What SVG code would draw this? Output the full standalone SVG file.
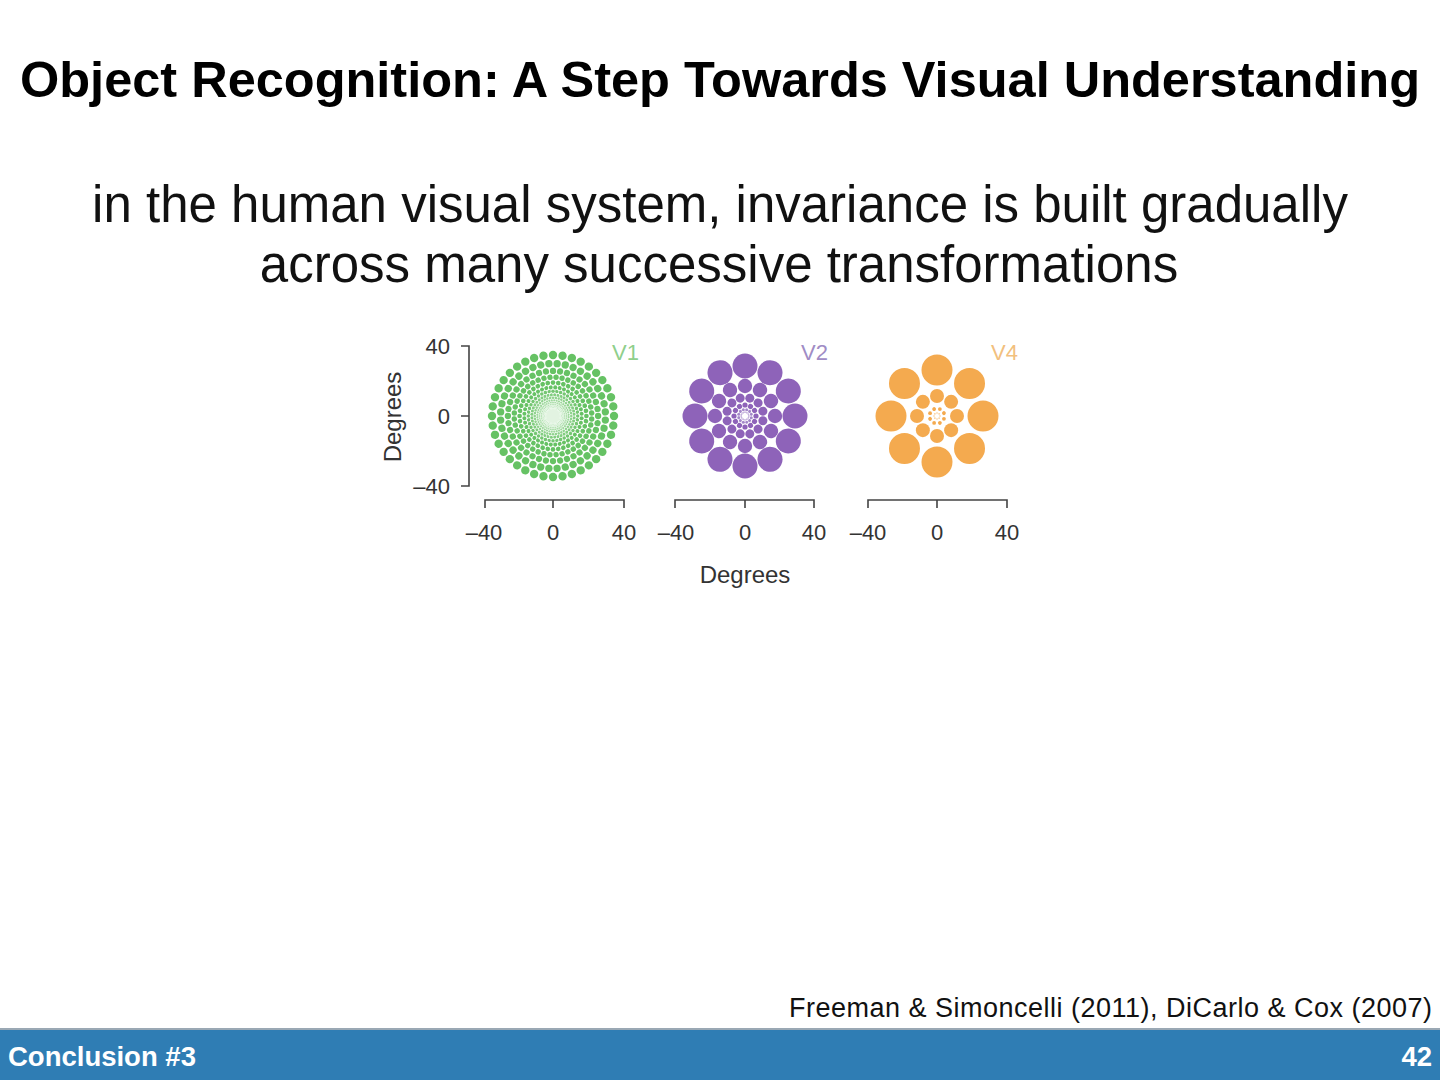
<svg xmlns="http://www.w3.org/2000/svg" xmlns:xlink="http://www.w3.org/1999/xlink" width="1440" height="1080" viewBox="0 0 1440 1080">
<style>
.title{font-family:"Liberation Sans",Arial,sans-serif;font-weight:bold;font-size:50.5px;fill:#000}
.sub{font-family:"Liberation Sans",Arial,sans-serif;font-size:51px;fill:#111}
.tick{font-family:"Liberation Sans",Arial,sans-serif;font-size:22px;fill:#333}
.deg{font-family:"Liberation Sans",Arial,sans-serif;font-size:24px;fill:#333}
.lab{font-family:"Liberation Sans",Arial,sans-serif;font-size:22px}
.cite{font-family:"Liberation Sans",Arial,sans-serif;font-size:27px;fill:#111}
.bar{font-family:"Liberation Sans",Arial,sans-serif;font-weight:bold;font-size:27.5px;fill:#fff}
.axis{stroke:#444;stroke-width:1.6;fill:none}
</style>
<defs>
<g id="v1spoke" fill="#66c264">
<circle cx="61" cy="0" r="4.2"/>
<circle cx="52.34" cy="4.12" r="3.65"/>
<circle cx="45.1" cy="0" r="3.15"/>
<circle cx="38.68" cy="3.04" r="2.72"/>
<circle cx="33.4" cy="0" r="2.35"/>
<circle cx="28.61" cy="2.25" r="2.02"/>
<circle cx="24.7" cy="0" r="1.75" fill="#74c672"/>
<circle cx="21.13" cy="1.66" r="1.5" fill="#82cd80"/>
<circle cx="18.3" cy="0" r="1.3" fill="#90d38e"/>
<circle cx="15.65" cy="1.23" r="1.12" fill="#9ed89c"/>
<circle cx="13.5" cy="0" r="0.97" fill="#abdea9"/>
<circle cx="11.56" cy="0.91" r="0.84" fill="#b7e3b5"/>
<circle cx="10" cy="0" r="0.72" fill="#c3e8c2"/>
<circle cx="8.57" cy="0.67" r="0.62" fill="#cdecCc"/>
<circle cx="7.4" cy="0" r="0.54" fill="#d6f0d5"/>
</g>
<g id="v2spoke" fill="#8e63b9">
<circle cx="50" cy="0" r="12.5"/>
<circle cx="30" cy="0" r="7.2"/>
<circle cx="17.87" cy="4.79" r="4.5"/>
<circle cx="11" cy="0" r="2.6"/>
<circle cx="6.28" cy="1.68" r="1.5" fill="#a488c9"/>
<circle cx="3.8" cy="0" r="0.9" fill="#c2afdb"/>
</g>
<g id="v4spoke" fill="#f4aa4f">
<circle cx="46" cy="0" r="15.5"/>
<circle cx="20" cy="0" r="7"/>
<circle cx="6.93" cy="2.87" r="1.9"/>
<circle cx="3" cy="0" r="0.8" fill="#f8c98f"/>
</g>
</defs>
<rect width="1440" height="1080" fill="#fff"/>
<text class="title" x="720" y="97" text-anchor="middle" textLength="1400" lengthAdjust="spacingAndGlyphs">Object Recognition: A Step Towards Visual Understanding</text>
<text class="sub" x="720" y="222" text-anchor="middle">in the human visual system, invariance is built gradually</text>
<text class="sub" x="719" y="282" text-anchor="middle">across many successive transformations</text>

<g id="figure">
<g id="yaxis">
<path class="axis" d="M461 346H469V486H461M461 416H469"/>
<text class="tick" x="450" y="354" text-anchor="end">40</text>
<text class="tick" x="450" y="424" text-anchor="end">0</text>
<text class="tick" x="450" y="494" text-anchor="end">–40</text>
<text class="deg" transform="translate(401 417) rotate(-90)" text-anchor="middle">Degrees</text>
</g>
<g id="v1">
<circle cx="553" cy="416" r="7" fill="#e2f3e1"/>
<g transform="translate(553 416)">
<use xlink:href="#v1spoke" transform="rotate(0)"/><use xlink:href="#v1spoke" transform="rotate(9)"/><use xlink:href="#v1spoke" transform="rotate(18)"/><use xlink:href="#v1spoke" transform="rotate(27)"/><use xlink:href="#v1spoke" transform="rotate(36)"/><use xlink:href="#v1spoke" transform="rotate(45)"/><use xlink:href="#v1spoke" transform="rotate(54)"/><use xlink:href="#v1spoke" transform="rotate(63)"/><use xlink:href="#v1spoke" transform="rotate(72)"/><use xlink:href="#v1spoke" transform="rotate(81)"/>
<use xlink:href="#v1spoke" transform="rotate(90)"/><use xlink:href="#v1spoke" transform="rotate(99)"/><use xlink:href="#v1spoke" transform="rotate(108)"/><use xlink:href="#v1spoke" transform="rotate(117)"/><use xlink:href="#v1spoke" transform="rotate(126)"/><use xlink:href="#v1spoke" transform="rotate(135)"/><use xlink:href="#v1spoke" transform="rotate(144)"/><use xlink:href="#v1spoke" transform="rotate(153)"/><use xlink:href="#v1spoke" transform="rotate(162)"/><use xlink:href="#v1spoke" transform="rotate(171)"/>
<use xlink:href="#v1spoke" transform="rotate(180)"/><use xlink:href="#v1spoke" transform="rotate(189)"/><use xlink:href="#v1spoke" transform="rotate(198)"/><use xlink:href="#v1spoke" transform="rotate(207)"/><use xlink:href="#v1spoke" transform="rotate(216)"/><use xlink:href="#v1spoke" transform="rotate(225)"/><use xlink:href="#v1spoke" transform="rotate(234)"/><use xlink:href="#v1spoke" transform="rotate(243)"/><use xlink:href="#v1spoke" transform="rotate(252)"/><use xlink:href="#v1spoke" transform="rotate(261)"/>
<use xlink:href="#v1spoke" transform="rotate(270)"/><use xlink:href="#v1spoke" transform="rotate(279)"/><use xlink:href="#v1spoke" transform="rotate(288)"/><use xlink:href="#v1spoke" transform="rotate(297)"/><use xlink:href="#v1spoke" transform="rotate(306)"/><use xlink:href="#v1spoke" transform="rotate(315)"/><use xlink:href="#v1spoke" transform="rotate(324)"/><use xlink:href="#v1spoke" transform="rotate(333)"/><use xlink:href="#v1spoke" transform="rotate(342)"/><use xlink:href="#v1spoke" transform="rotate(351)"/>
</g>
<text class="lab" x="612" y="360" fill="#8fcf8c">V1</text>
<path class="axis" d="M485 508V500H624V508M553 500V508"/>
<text class="tick" x="484" y="540" text-anchor="middle">–40</text>
<text class="tick" x="553" y="540" text-anchor="middle">0</text>
<text class="tick" x="624" y="540" text-anchor="middle">40</text>
</g>
<g id="v2">
<g transform="translate(745 416)">
<use xlink:href="#v2spoke" transform="rotate(0)"/><use xlink:href="#v2spoke" transform="rotate(30)"/><use xlink:href="#v2spoke" transform="rotate(60)"/><use xlink:href="#v2spoke" transform="rotate(90)"/><use xlink:href="#v2spoke" transform="rotate(120)"/><use xlink:href="#v2spoke" transform="rotate(150)"/>
<use xlink:href="#v2spoke" transform="rotate(180)"/><use xlink:href="#v2spoke" transform="rotate(210)"/><use xlink:href="#v2spoke" transform="rotate(240)"/><use xlink:href="#v2spoke" transform="rotate(270)"/><use xlink:href="#v2spoke" transform="rotate(300)"/><use xlink:href="#v2spoke" transform="rotate(330)"/>
</g>
<text class="lab" x="801" y="360" fill="#a08cc5">V2</text>
<path class="axis" d="M675 508V500H814V508M745 500V508"/>
<text class="tick" x="676" y="540" text-anchor="middle">–40</text>
<text class="tick" x="745" y="540" text-anchor="middle">0</text>
<text class="tick" x="814" y="540" text-anchor="middle">40</text>
<text class="deg" x="745" y="583" text-anchor="middle">Degrees</text>
</g>
<g id="v4">
<g transform="translate(937 416)">
<use xlink:href="#v4spoke" transform="rotate(0)"/><use xlink:href="#v4spoke" transform="rotate(45)"/><use xlink:href="#v4spoke" transform="rotate(90)"/><use xlink:href="#v4spoke" transform="rotate(135)"/>
<use xlink:href="#v4spoke" transform="rotate(180)"/><use xlink:href="#v4spoke" transform="rotate(225)"/><use xlink:href="#v4spoke" transform="rotate(270)"/><use xlink:href="#v4spoke" transform="rotate(315)"/>
</g>
<text class="lab" x="991" y="360" fill="#f2c07e">V4</text>
<path class="axis" d="M868 508V500H1007V508M937 500V508"/>
<text class="tick" x="868" y="540" text-anchor="middle">–40</text>
<text class="tick" x="937" y="540" text-anchor="middle">0</text>
<text class="tick" x="1007" y="540" text-anchor="middle">40</text>
</g>
</g>

<text class="cite" x="1432" y="1017" text-anchor="end" textLength="643">Freeman &amp; Simoncelli (2011), DiCarlo &amp; Cox (2007)</text>
<g id="footer">
<rect x="0" y="1028" width="1440" height="3" fill="#9aa8b4"/>
<rect x="0" y="1030" width="1440" height="50" fill="#2f7db4"/>
<text class="bar" x="8" y="1066">Conclusion #3</text>
<text class="bar" x="1432" y="1066" text-anchor="end">42</text>
</g>
</svg>
